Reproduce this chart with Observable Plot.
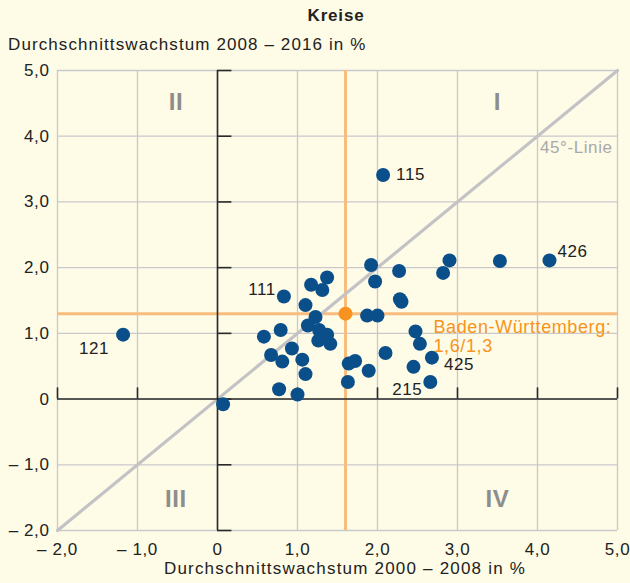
<!DOCTYPE html>
<html>
<head>
<meta charset="utf-8">
<script src="https://cdn.jsdelivr.net/npm/d3@7"></script>
<script src="https://cdn.jsdelivr.net/npm/@observablehq/plot@0.6"></script>
<style>
  html, body { margin: 0; padding: 0; background: #fefbe6; }
  #wrap { position: relative; width: 630px; height: 583px; font-family: "Liberation Sans", Arial, sans-serif; color: #222; letter-spacing: 1px; }
  #wrap svg { position: absolute; left: 0; top: 0; }
  .t { position: absolute; white-space: nowrap; font-size: 17px; }
</style>
</head>
<body>
<div id="wrap">
  <div class="t" style="left:0;width:672px;top:6px;text-align:center;font-weight:bold;font-size:17px;letter-spacing:0.8px;">Kreise</div>
  <div class="t" style="left:8px;top:35px;letter-spacing:1.1px;">Durchschnittswachstum 2008 – 2016 in %</div>
  <div class="t" style="left:57px;width:576px;top:559px;text-align:center;letter-spacing:1.2px;">Durchschnittswachstum 2000 – 2008 in %</div>
</div>
<script>
// Kreise: growth 2000–2008 (x) vs 2008–2016 (y), in %
const kreisX = [-1.18, 0.07, 2.07, 4.15, 3.53, 2.90, 2.82, 2.27, 1.92, 1.97, 2.28, 2.30, 1.37, 1.17, 1.31,
  0.83, 1.10, 1.225, 1.13, 1.27, 1.37, 1.26, 1.41, 0.79, 0.58, 0.93, 0.67, 0.81, 1.06, 1.10, 0.77, 1.00,
  1.87, 2.00, 2.475, 2.53, 2.10, 1.64, 1.72, 1.89, 1.63, 2.45, 2.68, 2.66];
const kreisY = [0.98, -0.08, 3.41, 2.11, 2.10, 2.11, 1.92, 1.95, 2.04, 1.79, 1.52, 1.48, 1.85, 1.74, 1.66,
  1.56, 1.43, 1.25, 1.12, 1.05, 0.98, 0.89, 0.84, 1.05, 0.95, 0.77, 0.67, 0.57, 0.60, 0.38, 0.15, 0.07,
  1.27, 1.27, 1.03, 0.84, 0.70, 0.54, 0.58, 0.43, 0.26, 0.49, 0.63, 0.26];
const kreisLabel = ["121", "", "115", "426", "", "", "", "", "", "", "", "", "", "", "",
  "111", "", "", "", "", "", "", "", "", "", "", "", "", "", "", "", "",
  "", "", "", "", "", "", "", "", "", "", "425", "215"];

const bwX = 1.6, bwY = 1.3;
const bwText = "Baden-Württemberg:\n1,6/1,3";
const ticks = [-2, -1, 0, 1, 2, 3, 4, 5];
const diag = [-2, 5];
const quadNames = ["I", "II", "III", "IV"];
const quadX = [3.5, -0.52, -0.52, 3.5];
const quadY = [4.52, 4.52, -1.52, -1.52];

const kreise = kreisX.map((x, i) => ({x, y: kreisY[i], label: kreisLabel[i]}));
const quads = quadNames.map((n, i) => ({n, x: quadX[i], y: quadY[i]}));

const fmt = d => d === 0 ? "0" : (d < 0 ? "– " : "") + Math.abs(d).toFixed(1).replace(".", ",");

// label placement per labelled Kreis
const lab = {
  "121": {anchor: "end", dx: -14, dy: 14},
  "115": {anchor: "start", dx: 13, dy: 0},
  "426": {anchor: "start", dx: 8, dy: -9},
  "111": {anchor: "end", dx: -8, dy: -7},
  "425": {anchor: "start", dx: 12, dy: 7},
  "215": {anchor: "end", dx: -8, dy: 8}
};
const labelled = kreise.filter(d => d.label);

const marks = [
  Plot.gridX(ticks, {stroke: "#c9c9cc", strokeOpacity: 1, strokeWidth: 1.3}),
  Plot.gridY(ticks, {stroke: "#c9c9cc", strokeOpacity: 1, strokeWidth: 1.3}),
  Plot.ruleX([bwX], {stroke: "#f8bd7c", strokeWidth: 3}),
  Plot.ruleY([bwY], {stroke: "#f8bd7c", strokeWidth: 3}),
  Plot.line(diag, {x: d => d, y: d => d, stroke: "#c3c3c6", strokeWidth: 3.2}),
  Plot.ruleX([0], {stroke: "#2a2a2a", strokeWidth: 1.6}),
  Plot.ruleY([0], {stroke: "#2a2a2a", strokeWidth: 1.6}),
  Plot.ruleY(ticks, {x1: 0, x2: 0.18, stroke: "#2a2a2a", strokeWidth: 1.6}),
  Plot.ruleX(ticks.filter(d => d !== 0), {y1: 0, y2: 0.17, stroke: "#2a2a2a", strokeWidth: 1.6}),
  Plot.text(quads, {x: "x", y: "y", text: "n", fill: "#8d8d8d", fontWeight: "bold", fontSize: 24}),
  Plot.text(["45°-Linie"], {x: 4.03, y: 3.83, text: d => d, textAnchor: "start", fill: "#a9a9a9", fontSize: 17}),
  Plot.dot(kreise, {x: "x", y: "y", r: 7, fill: "#0a4e8a"}),
  Plot.dot([{x: bwX, y: bwY}], {x: "x", y: "y", r: 7, fill: "#f7931e"}),
  Plot.text([bwText], {x: 2.7, y: 0.96, text: d => d, textAnchor: "start", fill: "#f7941d", fontSize: 18, lineHeight: 1.08}),
  ...Object.keys(lab).map(k => Plot.text(labelled.filter(d => d.label === k), {
    x: "x", y: "y", text: "label", textAnchor: lab[k].anchor, dx: lab[k].dx, dy: lab[k].dy,
    fill: "#222", fontSize: 17
  })),
  Plot.axisY(ticks, {tickSize: 0, tickPadding: 8, tickFormat: fmt, fontSize: 17, fill: "#222", label: null}),
  Plot.axisX(ticks, {tickSize: 0, tickPadding: 12, tickFormat: fmt, fontSize: 17, fill: "#222", label: null})
];

const chart = Plot.plot({
  width: 630,
  height: 583,
  marginLeft: 57,
  marginRight: 13,
  marginTop: 70,
  marginBottom: 53,
  style: {background: "transparent", fontFamily: "Liberation Sans, Arial, sans-serif", fontSize: "17px", color: "#222", letterSpacing: "0.6px"},
  x: {domain: [-2, 5]},
  y: {domain: [-2, 5]},
  marks
});
document.getElementById("wrap").appendChild(chart);
</script>
</body>
</html>
